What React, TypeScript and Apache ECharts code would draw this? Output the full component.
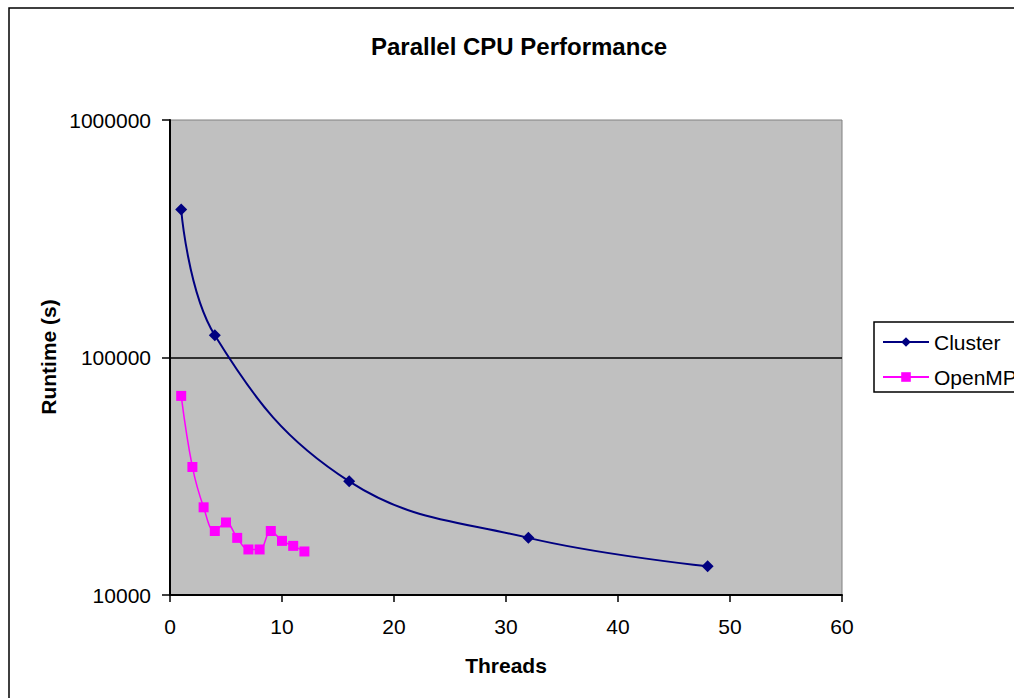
import React, { useEffect, useRef } from "react";
import * as echarts from "echarts";

const clusterThreads = [1, 4, 16, 32, 48];
const clusterRuntime = [420000, 124000, 30100, 17400, 13200];

const openmpThreads = [1, 2, 3, 4, 5, 6, 7, 8, 9, 10, 11, 12];
const openmpRuntime = [68900, 34600, 23400, 18600, 20200, 17400, 15550, 15550, 18600, 16900, 16100, 15250];

const seriesNames = ["Cluster", "OpenMP"];
const FONT = "'Liberation Sans', Arial, sans-serif";

export default function App() {
  const ref = useRef<HTMLDivElement>(null);
  useEffect(() => {
    if (!ref.current) return;
    const chart = echarts.init(ref.current, undefined, { renderer: "svg" });
    chart.setOption({
      animation: false,
      backgroundColor: "#ffffff",
      textStyle: { fontFamily: FONT },
      graphic: [
        {
          type: "rect",
          z: -10,
          shape: { x: 9, y: 8, width: 1300, height: 900 },
          style: { fill: "none", stroke: "#000", lineWidth: 1.5 },
        },
        {
          type: "text",
          x: 519,
          y: 46,
          style: {
            text: "Parallel CPU Performance",
            font: `bold 24px ${FONT}`,
            fill: "#000",
            align: "center",
            verticalAlign: "middle",
          },
        },
        {
          type: "text",
          x: 506,
          y: 665,
          style: {
            text: "Threads",
            font: `bold 21px ${FONT}`,
            fill: "#000",
            align: "center",
            verticalAlign: "middle",
          },
        },
        {
          type: "text",
          x: 48,
          y: 357,
          rotation: Math.PI / 2,
          style: {
            text: "Runtime (s)",
            font: `bold 21px ${FONT}`,
            fill: "#000",
            align: "center",
            verticalAlign: "middle",
          },
        },
      ],
      grid: {
        left: 170,
        top: 120,
        width: 672,
        height: 475,
        show: true,
        backgroundColor: "#c0c0c0",
        borderColor: "#808080",
        borderWidth: 1,
      },
      legend: {
        orient: "vertical",
        left: 874,
        top: 322,
        data: seriesNames,
        backgroundColor: "#ffffff",
        borderColor: "#000",
        borderWidth: 1.5,
        borderRadius: 0,
        padding: [9, 40, 4, 8],
        itemGap: 13,
        itemWidth: 46,
        itemHeight: 12,
        textStyle: { fontSize: 21, lineHeight: 22, color: "#000", fontFamily: FONT },
      },
      xAxis: {
        type: "value",
        min: 0,
        max: 60,
        interval: 10,
        axisLine: { show: true, lineStyle: { color: "#000", width: 2 } },
        axisTick: { show: true, inside: false, length: 7, lineStyle: { color: "#000", width: 1.5 } },
        axisLabel: { fontSize: 21, color: "#000", margin: 21, fontFamily: FONT },
        splitLine: { show: false },
      },
      yAxis: {
        type: "log",
        logBase: 10,
        min: 10000,
        max: 1000000,
        axisLine: { show: true, lineStyle: { color: "#000", width: 2 } },
        axisTick: { show: true, inside: false, length: 8, lineStyle: { color: "#000", width: 1.5 } },
        axisLabel: {
          fontSize: 21,
          color: "#000",
          margin: 19,
          fontFamily: FONT,
          formatter: (v: number) => String(Math.round(v)),
        },
        splitLine: { show: false },
        minorTick: { show: false },
      },
      series: [
        {
          name: seriesNames[0],
          type: "line",
          smooth: 0.4,
          data: clusterThreads.map((t, i) => [t, clusterRuntime[i]]),
          symbol: "diamond",
          symbolSize: 12,
          itemStyle: { color: "#000080" },
          lineStyle: { color: "#000080", width: 2 },
          z: 3,
          markLine: {
            silent: true,
            symbol: ["none", "none"],
            label: { show: false },
            lineStyle: { color: "#000", width: 1.5, type: "solid" },
            data: [{ yAxis: 100000 }],
            z: 1,
          },
        },
        {
          name: seriesNames[1],
          type: "line",
          smooth: 0.4,
          data: openmpThreads.map((t, i) => [t, openmpRuntime[i]]),
          symbol: "rect",
          symbolSize: 10,
          itemStyle: { color: "#ff00ff" },
          lineStyle: { color: "#ff00ff", width: 1.5 },
          z: 3,
        },
      ],
    });
    return () => chart.dispose();
  }, []);
  return (
    <div
      ref={ref}
      style={{ position: "fixed", left: 0, top: 0, width: 1014, height: 698 }}
    />
  );
}
